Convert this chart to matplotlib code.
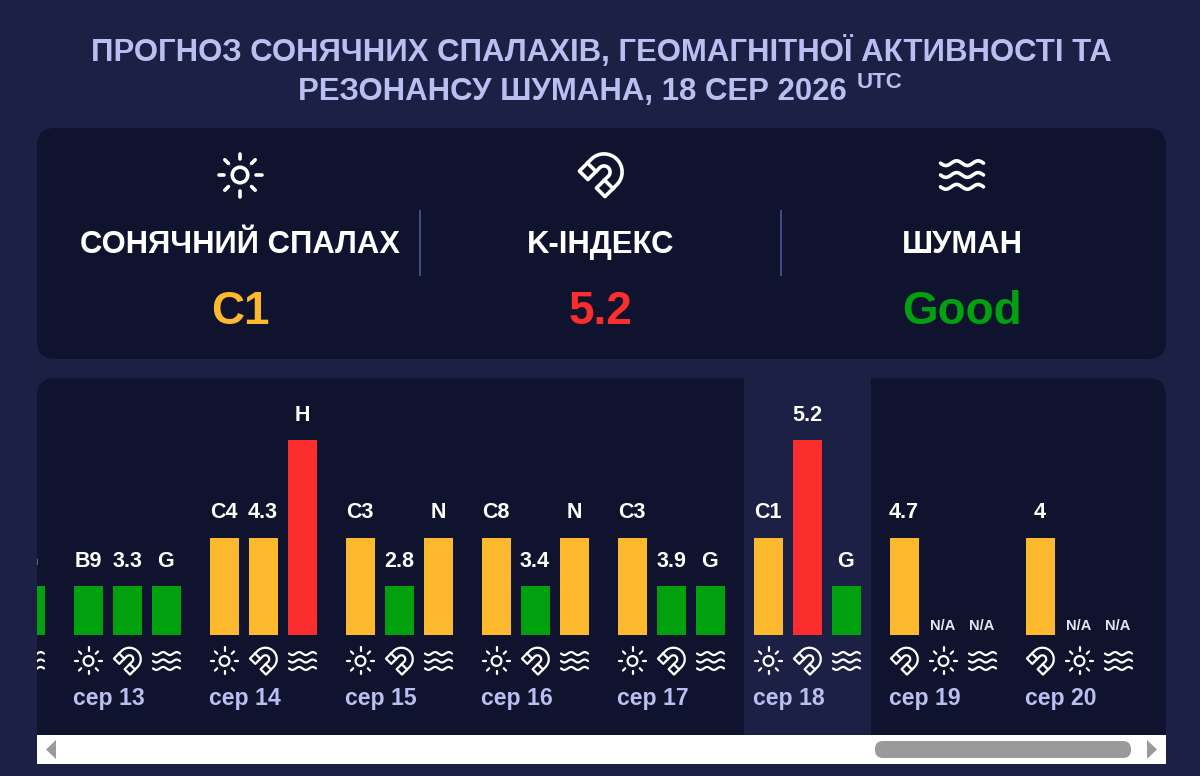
import numpy as np
import matplotlib
matplotlib.use("Agg")
import matplotlib.pyplot as plt
from matplotlib.patches import FancyBboxPatch, Rectangle, Polygon, Circle

plt.rcParams['font.family'] = ['Liberation Sans', 'DejaVu Sans']

# data
days = ['сер 12', 'сер 13', 'сер 14', 'сер 15', 'сер 16', 'сер 17', 'сер 18', 'сер 19', 'сер 20']
first_labels = ['', 'B9', 'C4', 'C3', 'C8', 'C3', 'C1', '4.7', '4']
second_labels = ['', '3.3', '4.3', '2.8', '3.4', '3.9', '5.2', 'N/A', 'N/A']
third_labels = ['G', 'G', 'H', 'N', 'N', 'G', 'G', 'N/A', 'N/A']
first_levels = [0, 1, 2, 2, 2, 2, 2, 2, 2]
second_levels = [0, 1, 2, 1, 1, 1, 4, 0, 0]
third_levels = [1, 1, 4, 2, 2, 1, 1, 0, 0]
first_icons = ['sun', 'sun', 'sun', 'sun', 'sun', 'sun', 'sun', 'magnet', 'magnet']
second_icons = ['magnet', 'magnet', 'magnet', 'magnet', 'magnet', 'magnet', 'magnet', 'sun', 'sun']
card_titles = ['СОНЯЧНИЙ СПАЛАХ', 'K-ІНДЕКС', 'ШУМАН']
card_values = ['C1', '5.2', 'Good']
card_icons = ['sun', 'magnet', 'waves']

PAGE = '#1c2044'
PANEL = '#10132e'
YELLOW = '#fdb92e'
GREEN = '#00a00f'
RED = '#fb2d2d'
LILAC = '#b9bff0'
level_colors = {1: GREEN, 2: YELLOW, 4: RED}


def draw_icon(ax, kind, cx, cy, s, lw):
    if kind == 'sun':
        ax.add_patch(Circle((cx, cy), 0.36 * s, fill=False, ec='white', lw=lw))
        for a in np.arange(0, 360, 45):
            dx, dy = np.cos(np.radians(a)), np.sin(np.radians(a))
            ax.plot([cx + 0.76 * s * dx, cx + s * dx], [cy + 0.76 * s * dy, cy + s * dy],
                    color='white', lw=lw, solid_capstyle='round')
    elif kind == 'magnet':
        t = np.linspace(0, np.pi, 30)
        R, r, L = 0.84 * s, 0.28 * s, 0.78 * s
        xs = np.r_[R * np.cos(t), -R, -r, r * np.cos(t[::-1]), r, R]
        ys = np.r_[R * np.sin(t), -L, -L, r * np.sin(t[::-1]), -L, -L]
        c = np.cos(np.pi / 4)
        def place(x, y):
            # the open end points to the lower left
            x, y = np.asarray(x), np.asarray(y) + 0.2 * s
            return np.c_[cx + c * (x + y), cy - c * (y - x)]
        ax.add_patch(Polygon(place(xs, ys), closed=True, fill=False, ec='white', lw=lw, joinstyle='round'))
        for sign in (-1, 1):
            seg = place([sign * R, sign * r], [-0.25 * s, -0.25 * s])
            ax.plot(seg[:, 0], seg[:, 1], color='white', lw=lw)
    else:
        x = np.linspace(-s, s, 60)
        for off in (-0.55, 0, 0.55):
            ax.plot(cx + x, cy + off * s + 0.11 * s * np.sin(x / s * 2 * np.pi),
                    color='white', lw=lw, solid_capstyle='round')


fig = plt.figure(figsize=(12, 7.76), dpi=100, facecolor=PAGE)

# page in pixel coordinates
page = fig.add_axes([0, 0, 1, 1])
page.set_xlim(0, 1200)
page.set_ylim(776, 0)
page.axis('off')

page.text(601, 52, 'ПРОГНОЗ СОНЯЧНИХ СПАЛАХІВ, ГЕОМАГНІТНОЇ АКТИВНОСТІ ТА', color=LILAC,
          fontsize=22.4, fontweight='bold', ha='center', va='center')
page.text(572, 92, 'РЕЗОНАНСУ ШУМАНА, 18 СЕР 2026', color=LILAC,
          fontsize=22.4, fontweight='bold', ha='center', va='center')
page.text(880, 83, 'UTC', color=LILAC, fontsize=16, fontweight='bold', ha='center', va='center')

# top card
page.add_patch(FancyBboxPatch((37, 128), 1129, 231, boxstyle='round,pad=0,rounding_size=18',
                              fc=PANEL, ec='none'))
card_x = [240, 601, 962]
value_colors = [YELLOW, RED, GREEN]
for i in range(3):
    draw_icon(page, card_icons[i], card_x[i], 175, 21.5, 2.6)
    page.text(card_x[i], 245, card_titles[i], color='white', fontsize=22.3, fontweight='bold',
              ha='center', va='center')
    page.text(card_x[i], 312, card_values[i], color=value_colors[i], fontsize=33, fontweight='bold',
              ha='center', va='center')
for x in (420, 781):
    page.plot([x, x], [211, 275], color='#454b8c', lw=1.4)

# lower panel, flat at the bottom where the scrollbar sits
page.add_patch(FancyBboxPatch((37, 378), 1129, 380, boxstyle='round,pad=0,rounding_size=18',
                              fc=PANEL, ec='none'))

# bars: x in pixels, y in level units
PX_PER_LEVEL = 48.75
chart = fig.add_axes([37 / 1200, 1 - 735 / 776, 1129 / 1200, 357 / 776])
chart.patch.set_alpha(0)
chart.set_xlim(37, 1166)
chart.set_ylim(-100 / PX_PER_LEVEL, 257 / PX_PER_LEVEL)
chart.axis('off')
chart.axvspan(744, 871, color=PAGE, lw=0, zorder=0)

# same panel in pixels, for icons and texts
icons = fig.add_axes(chart.get_position())
icons.patch.set_alpha(0)
icons.set_xlim(37, 1166)
icons.set_ylim(735, 378)
icons.axis('off')

group_x = -62 + 136 * np.arange(len(days))
for i, day in enumerate(days):
    levels = [first_levels[i], second_levels[i], third_levels[i]]
    labels = [first_labels[i], second_labels[i], third_labels[i]]
    kinds = [first_icons[i], second_icons[i], 'waves']
    for j in range(3):
        left = group_x[i] + 39 * j
        mid = left + 14.5
        if levels[j] > 0:
            chart.bar(left, levels[j], width=29, align='edge', color=level_colors[levels[j]], zorder=2)
        top_px = 635 - levels[j] * PX_PER_LEVEL
        if labels[j] == 'N/A':
            icons.text(mid - 1, 626, labels[j], color='#e6e6ee', fontsize=10.5, fontweight='bold',
                       ha='center', va='center', clip_on=True)
        elif labels[j]:
            icons.text(mid - 0.5, top_px - 24.5, labels[j], color='white', fontsize=15.5, fontweight='bold',
                       ha='center', va='center', clip_on=True)
        if i > 0 or j == 2:
            draw_icon(icons, kinds[j], mid, 661, 13.5, 1.6)
    if i > 0:
        icons.text(group_x[i] - 1, 699, day, color=LILAC, fontsize=16.6, fontweight='bold', ha='left', va='center')

# scrollbar
page.add_patch(Rectangle((37, 735), 1129, 29, fc='white', ec='none', zorder=3))
page.add_patch(FancyBboxPatch((875, 741), 256, 17, boxstyle='round,pad=0,rounding_size=8',
                              fc='#9a9a9a', ec='none', zorder=4))
page.add_patch(Polygon([(56, 740), (56, 759), (46, 749.5)], fc='#9a9a9a', ec='none', zorder=4))
page.add_patch(Polygon([(1147, 740), (1147, 759), (1157, 749.5)], fc='#9a9a9a', ec='none', zorder=4))

fig.savefig('out.png', dpi=100, facecolor=PAGE)
